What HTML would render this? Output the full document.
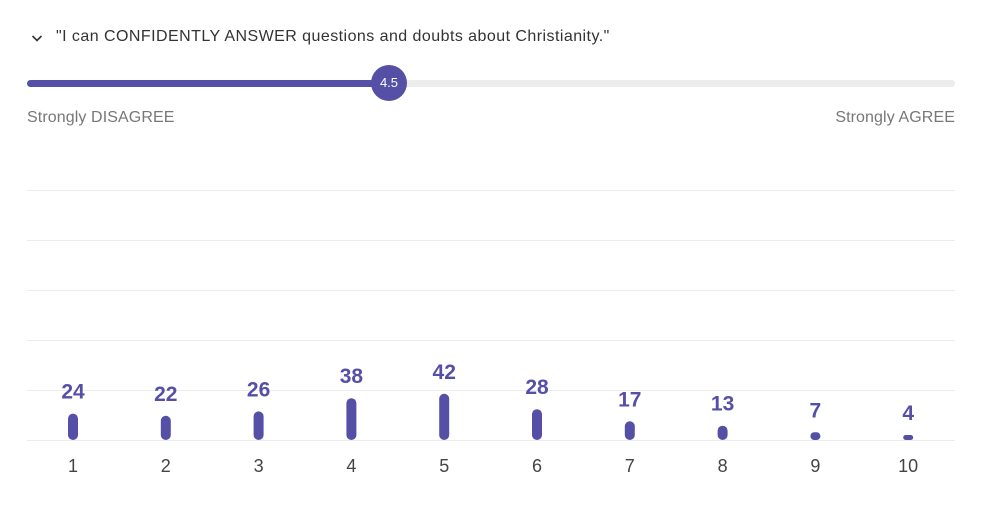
<!DOCTYPE html>
<html><head><meta charset="utf-8"><style>
body{margin:0;width:983px;height:508px;background:#fff;font-family:"Liberation Sans",sans-serif;overflow:hidden;position:relative}
.abs{position:absolute}
</style></head><body>
<div class="abs" style="left:30px;top:31px;width:14px;height:14px">
<svg width="14" height="14"><path d="M2.5 5 L7 9.5 L11.5 5" fill="none" stroke="#333" stroke-width="1.6"/></svg></div>
<div class="abs" style="left:56px;top:28px;font-size:16px;color:#333;letter-spacing:0.45px">"I can CONFIDENTLY ANSWER questions and doubts about Christianity."</div>
<div class="abs" style="left:27px;top:80px;width:928px;height:7px;border-radius:4px;background:#ececec"></div>
<div class="abs" style="left:27px;top:80px;width:362px;height:7px;border-radius:4px;background:#5550a6"></div>
<div class="abs" style="left:371px;top:65px;width:36px;height:36px;border-radius:50%;background:#5550a6;color:#fff;font-size:13px;line-height:36px;text-align:center">4.5</div>
<div class="abs" style="left:27px;top:109px;font-size:16px;color:#777;letter-spacing:0.1px">Strongly DISAGREE</div>
<div class="abs" style="right:28px;top:109px;font-size:16px;color:#777;letter-spacing:0.1px">Strongly AGREE</div>
<svg class="abs" style="left:0;top:0" width="983" height="508" id="chart"></svg>
<script>
const categories=["1","2","3","4","5","6","7","8","9","10"];
const counts=[24,22,26,38,42,28,17,13,7,4];
const gridValues=[0,45,90,135,180,225];
const svg=document.getElementById('chart');
const NS='http://www.w3.org/2000/svg';
const base=440, perUnit=1.1, x0=73, step=92.8;
const xPos=i=>x0+i*step;
const yPos=v=>base-v*perUnit;
function mk(tag,attrs){const e=document.createElementNS(NS,tag);for(const k in attrs)e.setAttribute(k,attrs[k]);svg.appendChild(e);return e;}
gridValues.forEach(v=>{
 const y=Math.round(yPos(v*1.01))+0.5;
 const l=mk('line',{x1:27,x2:955,y1:y,y2:y,stroke:'#ececec','stroke-width':1});
 
 
});
counts.forEach((v,i)=>{
 const h=Math.max(v*perUnit,5);
 const r=mk('rect',{x:xPos(i)-5,y:base-h,width:10,height:h,rx:Math.min(5,h/2),fill:'#5550a6'});
 
 
 const t=mk('text',{x:xPos(i),y:base-h-15,'text-anchor':'middle','font-size':21,'font-weight':'bold',fill:'#5550a6','font-family':'Liberation Sans, sans-serif'});
 t.textContent=v;
 
 
 const c=mk('text',{x:xPos(i),y:472,'text-anchor':'middle','font-size':18,fill:'#444','font-family':'Liberation Sans, sans-serif'});
 c.textContent=categories[i];
 
 
});
</script>
</body></html>
